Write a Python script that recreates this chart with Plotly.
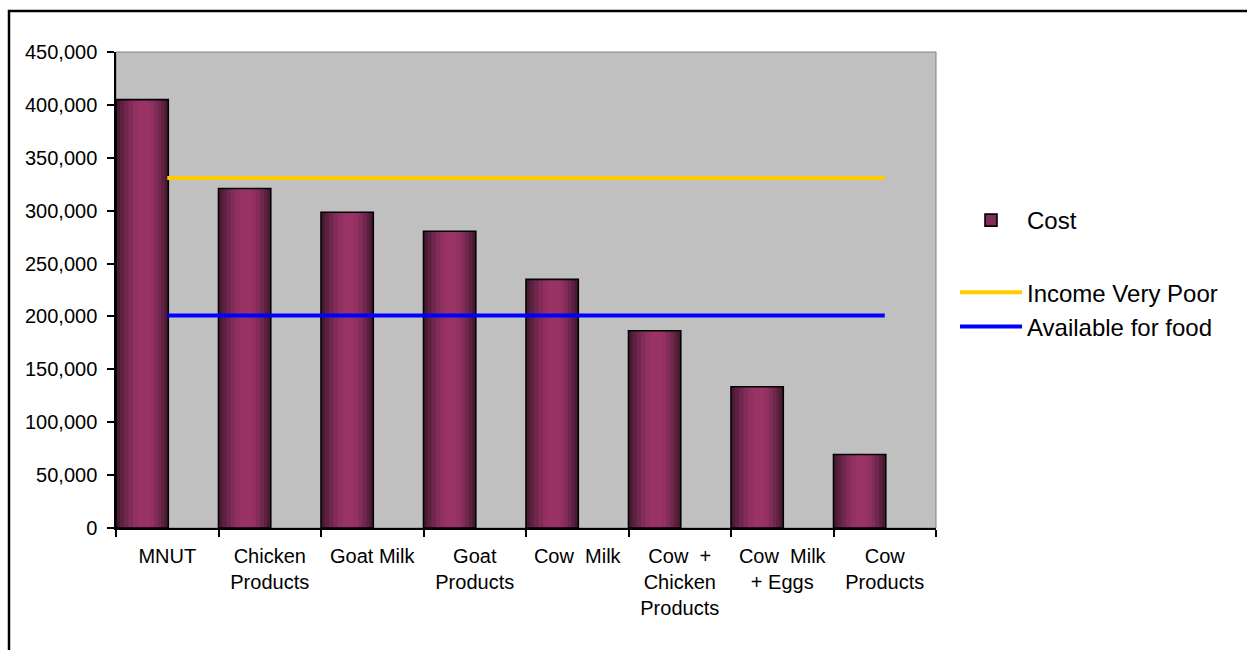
import plotly.graph_objects as go

# ---- data ----
categories = [
    "MNUT",
    "Chicken<br>Products",
    "Goat Milk",
    "Goat<br>Products",
    "Cow\u00a0 Milk",
    "Cow\u00a0 +<br>Chicken<br>Products",
    "Cow\u00a0 Milk<br>+ Eggs",
    "Cow<br>Products",
]
cost = [405000, 321000, 298500, 280500, 235000, 186500, 133500, 69500]
income_very_poor = [331000, 331000, 331000, 331000, 331000, 331000, 331000, 331000]
available_for_food = [201000, 201000, 201000, 201000, 201000, 201000, 201000, 201000]
y_ticks = [0, 50000, 100000, 150000, 200000, 250000, 300000, 350000, 400000, 450000]

FONT = "Liberation Sans, Arial, sans-serif"

fig = go.Figure()

# bar drawn as layered gradient (dark edges, lighter centre)
BAR_W = 0.51
layers = [
    (1.00, "#4A1A33"),
    (0.86, "#5C2041"),
    (0.72, "#70274E"),
    (0.56, "#822C58"),
    (0.40, "#923161"),
    (0.22, "#993366"),
]
for frac, col in layers:
    w = BAR_W * frac
    fig.add_trace(go.Bar(
        x=categories, y=cost, width=w, offset=-0.5 + (BAR_W - w) / 2 + (0.02 if frac < 1 else 0) * (1 - frac),
        marker=dict(color=col, line=dict(width=0)),
        showlegend=False, hoverinfo="skip",
    ))
# outline
fig.add_trace(go.Bar(
    x=categories, y=cost, width=BAR_W, offset=-0.5, name="Cost",
    marker=dict(color="rgba(0,0,0,0)", line=dict(color="black", width=1.6)),
    legendgroup="a", showlegend=False,
))
# legend entry for the bars
fig.add_trace(go.Bar(
    x=[None], y=[None], name="Cost",
    marker=dict(color="#822C58", line=dict(color="black", width=1.6)),
    legendgroup="a",
))

fig.add_trace(go.Scatter(
    x=categories, y=income_very_poor, mode="lines", name="Income Very Poor",
    line=dict(color="#FFCC00", width=4), legendgroup="b",
))
fig.add_trace(go.Scatter(
    x=categories, y=available_for_food, mode="lines", name="Available for food",
    line=dict(color="#0000FF", width=4), legendgroup="b",
))

# outer frame and plot-area border (paper coordinates)
fig.add_shape(type="rect", xref="paper", yref="paper",
              x0=(9 - 116) / 820, x1=(1270 - 116) / 820,
              y0=(528 - 670) / 476, y1=(528 - 11) / 476,
              line=dict(color="black", width=2.5), fillcolor="rgba(0,0,0,0)", layer="below")
fig.add_shape(type="rect", xref="paper", yref="paper", x0=0, x1=1, y0=0, y1=1,
              line=dict(color="#808080", width=1), fillcolor="rgba(0,0,0,0)", layer="below")

fig.update_layout(
    width=1247, height=650,
    margin=dict(l=116, r=311, t=52, b=122),
    paper_bgcolor="white",
    plot_bgcolor="#C0C0C0",
    barmode="overlay",
    font=dict(family=FONT, size=20, color="black"),
    legend=dict(
        x=(955 - 116) / 820, y=(528 - 198) / 476, xanchor="left", yanchor="top",
        font=dict(family=FONT, size=24, color="black"),
        tracegroupgap=38, itemwidth=62, bgcolor="rgba(0,0,0,0)",
    ),
    xaxis=dict(
        type="category", range=[-0.5, 7.5], tickson="boundaries",
        ticks="outside", ticklen=7, tickcolor="black", tickwidth=1.5,
        showline=True, linecolor="black", linewidth=1.5,
        showgrid=False, tickfont=dict(family=FONT, size=20),
        ticklabelstandoff=9,
    ),
    yaxis=dict(
        range=[0, 450000], tickvals=y_ticks, tickformat=",",
        ticks="outside", ticklen=7, tickcolor="black", tickwidth=1.5,
        showline=True, linecolor="black", linewidth=1.5,
        showgrid=False, zeroline=False, ticklabelstandoff=6,
        tickfont=dict(family=FONT, size=20),
    ),
)

fig.write_html("out.html")
